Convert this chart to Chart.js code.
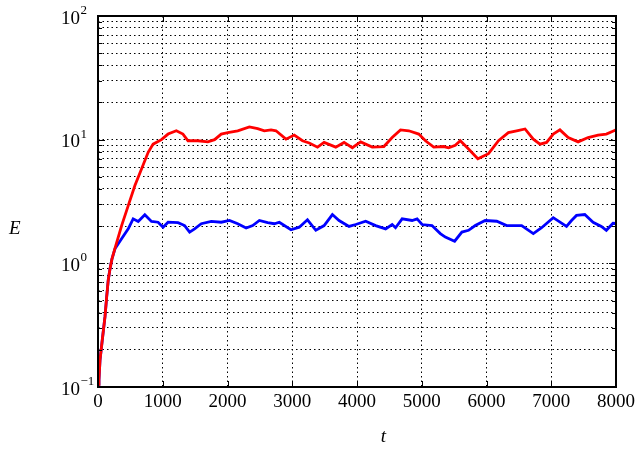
<!DOCTYPE html>
<html>
<head>
<meta charset="utf-8">
<script src="https://cdn.jsdelivr.net/npm/chart.js@4/dist/chart.umd.min.js"></script>
<style>
  html, body { margin: 0; padding: 0; background: #fff; }
  canvas { display: block; }
</style>
</head>
<body>
<canvas id="c" width="639" height="450"></canvas>
<script>
// Energy E(t) of the two runs (red and blue), sampled along t
const redT = [0, 15, 31, 66, 108, 134, 158, 185, 215, 262, 365, 467, 570, 672, 775, 851, 980, 1082, 1210, 1312, 1390, 1543, 1697, 1800, 1903, 2005, 2158, 2338, 2466, 2569, 2672, 2749, 2903, 3031, 3158, 3262, 3390, 3492, 3672, 3800, 3928, 4057, 4235, 4415, 4543, 4672, 4800, 4954, 5057, 5185, 5338, 5415, 5518, 5595, 5723, 5866, 6031, 6185, 6338, 6466, 6595, 6723, 6826, 6928, 7031, 7134, 7262, 7415, 7569, 7723, 7851, 7969, 8000];
const redE = [0.105, 0.114, 0.165, 0.24, 0.37, 0.535, 0.73, 0.9, 1.08, 1.32, 2.02, 2.93, 4.26, 5.8, 7.9, 9.2, 10.0, 11.1, 11.8, 11.1, 9.8, 9.8, 9.6, 10.0, 11.1, 11.4, 11.8, 12.7, 12.3, 11.8, 12.0, 11.8, 10.1, 10.9, 9.8, 9.4, 8.7, 9.5, 8.7, 9.5, 8.6, 9.6, 8.7, 8.8, 10.4, 12.0, 11.8, 11.1, 9.8, 8.7, 8.8, 8.6, 9.0, 9.8, 8.4, 7.0, 7.7, 9.8, 11.4, 11.8, 12.2, 10.1, 9.2, 9.5, 11.1, 12.0, 10.4, 9.6, 10.4, 10.9, 11.1, 11.8, 12.0];

const blueT = [0, 15, 31, 66, 108, 134, 158, 185, 215, 262, 364, 467, 543, 621, 723, 826, 928, 1005, 1082, 1236, 1338, 1415, 1492, 1595, 1749, 1903, 2031, 2158, 2288, 2389, 2492, 2620, 2723, 2800, 2980, 3108, 3235, 3364, 3492, 3620, 3723, 3877, 3980, 4134, 4288, 4442, 4543, 4595, 4697, 4851, 4928, 5005, 5158, 5287, 5364, 5508, 5620, 5723, 5826, 5980, 6158, 6312, 6543, 6723, 6851, 7031, 7236, 7313, 7390, 7518, 7646, 7774, 7851, 7954, 8000];
const blueE = [0.105, 0.114, 0.165, 0.24, 0.37, 0.535, 0.73, 0.9, 1.08, 1.31, 1.58, 1.9, 2.29, 2.18, 2.47, 2.18, 2.15, 1.96, 2.15, 2.13, 2.02, 1.79, 1.9, 2.09, 2.18, 2.15, 2.22, 2.09, 1.93, 2.02, 2.22, 2.13, 2.09, 2.15, 1.87, 1.96, 2.25, 1.85, 2.02, 2.48, 2.22, 1.99, 2.06, 2.19, 2.02, 1.9, 2.06, 1.94, 2.29, 2.22, 2.29, 2.06, 2.02, 1.74, 1.63, 1.51, 1.79, 1.85, 2.02, 2.22, 2.19, 2.02, 2.02, 1.74, 1.94, 2.34, 1.99, 2.22, 2.44, 2.48, 2.15, 1.99, 1.85, 2.11, 2.1];

// Axis ticks
const xTicks = [0, 1000, 2000, 3000, 4000, 5000, 6000, 7000, 8000];
const yTicks = [0.1, 0.2, 0.3, 0.4, 0.5, 0.6, 0.7, 0.8, 0.9,
                1, 2, 3, 4, 5, 6, 7, 8, 9,
                10, 20, 30, 40, 50, 60, 70, 80, 90, 100];
const yMajor = [0.1, 1, 10, 100];
const yLabelExponents = ['\u22121', '0', '1', '2'];

const SERIF = '"Liberation Serif", "DejaVu Serif", serif';
const DOTS = [1.5, 3];

function toPoints(ts, es) { return ts.map((t, i) => ({ x: t, y: es[i] })); }

// Inward tick marks, box frame, power-of-ten labels and axis symbols
const framePlugin = {
  id: 'frameAndLabels',
  afterDraw(chart) {
    const { ctx, chartArea: a, scales: { x, y } } = chart;
    ctx.save();
    ctx.setLineDash([]);
    ctx.strokeStyle = '#000';
    ctx.lineWidth = 1;
    const seg = (x1, y1, x2, y2) => { ctx.beginPath(); ctx.moveTo(x1, y1); ctx.lineTo(x2, y2); ctx.stroke(); };
    y.ticks.forEach(t => {
      const py = Math.round(y.getPixelForValue(t.value)) + 0.5;
      const len = yMajor.includes(t.value) ? 7 : 4;
      seg(a.left, py, a.left + len, py);
      seg(a.right, py, a.right - len, py);
    });
    x.ticks.forEach(t => {
      const px = Math.round(x.getPixelForValue(t.value)) + 0.5;
      seg(px, a.bottom, px, a.bottom - 6);
      seg(px, a.top, px, a.top + 6);
    });
    ctx.lineWidth = 2;
    ctx.strokeRect(a.left, a.top, a.right - a.left, a.bottom - a.top);

    ctx.fillStyle = '#000';
    ctx.textBaseline = 'alphabetic';
    yMajor.forEach((v, i) => {
      const py = y.getPixelForValue(v);
      ctx.font = '19px ' + SERIF;
      ctx.textAlign = 'right';
      ctx.fillText('10', a.left - 18, py + 7.5);
      ctx.font = '13px ' + SERIF;
      ctx.textAlign = 'left';
      ctx.fillText(yLabelExponents[i], a.left - 17.5, py - 2);
    });

    ctx.font = 'italic 19px ' + SERIF;
    ctx.textAlign = 'left';
    ctx.fillText('E', 9, 234);
    ctx.textAlign = 'center';
    ctx.fillText('t', 383.5, 442);
    ctx.restore();
  }
};

const gridStyle = {
  color: '#000',
  lineWidth: 1,
  drawTicks: false,
  borderDash: DOTS
};
const borderStyle = { display: false, dash: DOTS, dashOffset: 0 };

new Chart(document.getElementById('c'), {
  type: 'line',
  data: {
    datasets: [
      { label: 'red', data: toPoints(redT, redE), borderColor: '#ff0000', borderWidth: 2.8, pointRadius: 0, tension: 0, fill: false },
      { label: 'blue', data: toPoints(blueT, blueE), borderColor: '#0000ff', borderWidth: 2.8, pointRadius: 0, tension: 0, fill: false }
    ]
  },
  options: {
    responsive: false,
    animation: false,
    devicePixelRatio: 1,
    layout: { padding: { left: 0, right: 21, top: 16, bottom: 0 } },
    plugins: { legend: { display: false }, tooltip: { enabled: false } },
    scales: {
      x: {
        type: 'linear',
        min: 0, max: 8000,
        afterBuildTicks: s => { s.ticks = xTicks.map(v => ({ value: v })); },
        afterFit: s => { s.height = 63; },
        grid: gridStyle,
        border: borderStyle,
        ticks: {
          color: '#000', font: { family: SERIF, size: 19 }, padding: 4,
          maxRotation: 0, autoSkip: false,
          callback: v => String(v)
        }
      },
      y: {
        type: 'logarithmic',
        min: 0.1, max: 100,
        afterBuildTicks: s => { s.ticks = yTicks.map(v => ({ value: v })); },
        afterFit: s => { s.width = 98; },
        grid: gridStyle,
        border: borderStyle,
        ticks: { display: false, autoSkip: false }
      }
    }
  },
  plugins: [framePlugin]
});
</script>
</body>
</html>
